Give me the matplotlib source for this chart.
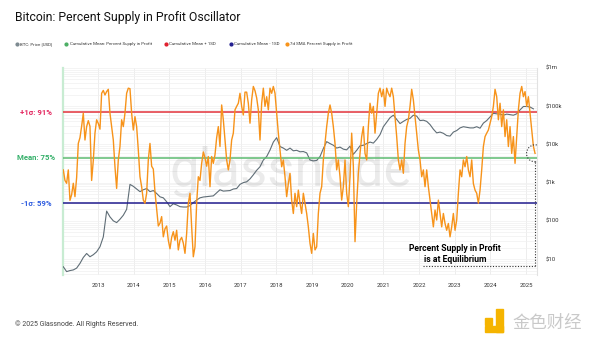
import numpy as np
import pandas as pd
import matplotlib
matplotlib.use('Agg')
import matplotlib.pyplot as plt
from matplotlib.lines import Line2D
from matplotlib.patches import Rectangle
from matplotlib.ticker import NullFormatter

plt.rcParams['font.family'] = ['Roboto', 'DejaVu Sans']

# 7d SMA percent supply in profit (%), evenly spaced samples
psip_2012 = [70.7, 67, 66, 70.7, 60, 62, 66, 61.3, 68, 80,
             82, 86, 90.6, 81.2, 85.9, 88, 86, 67, 74, 83.6,
             88.3, 87, 85, 97.6, 98.6, 97, 98.2, 99, 90.6, 85.9,
             81.2, 71.8, 64.2, 74.2, 78.9, 88.3, 85.9, 90.6, 97.6, 99.4,
             99.2, 90.6, 84.7, 89.4, 85.9, 77.7, 68.3, 64.8, 60.1, 59,
             62.5, 74.2, 80, 72, 71, 63, 57, 51, 52, 54.3,
             47.2, 50, 51, 46, 43, 47, 49, 46, 49.5, 42.6,
             46, 47, 45, 41.4, 48.4, 59, 62.5, 50.7, 40.2, 43.7,
             59, 68.3]
psip_2016 = [67, 73, 77, 75, 72, 75.4, 64.8, 75.4, 73, 76,
             82, 85.9, 78.9, 93.5, 88.3, 81.2, 74.2, 70.7, 74.2, 81.2,
             83.6, 91.8, 93, 94.1, 97.6, 93, 90, 98, 98, 94.1,
             87.1, 95.3, 100, 98.5, 96, 91.8, 81.2, 94.1, 99.4, 93,
             96.4, 91.8, 99.4, 97.6, 100, 97.6, 90.6, 83.6, 77.7, 71.8,
             74.2, 68.3, 61.3, 65.9, 69.5, 60.1, 55.4, 62.5, 57.8, 63.6,
             59, 55.4, 62.5, 59, 55.4, 50.7, 44.9, 41.4, 48.4, 42.6,
             43.7, 55.4, 62.5, 64.8, 74.2, 80, 85.9, 90.6, 93.5, 90.6,
             85.9, 80, 70.7, 74.2]
psip_2020 = [68.3, 60.1, 64.8, 74.2, 62.5, 57.8, 68.3, 83.6, 72, 45.5,
             59, 69.5, 76.5, 82.4, 85.9, 76.5, 74.2, 85.9, 94.1, 90.6,
             93, 83.6, 90.6, 97.6, 99.4, 96.4, 99, 93, 99.4, 97.6,
             96.4, 99.4, 96.4, 89.4, 82.4, 74.2, 70.7, 74.2, 69.5, 80,
             85.9, 88.3, 93, 99, 95.3, 89.4, 83.6, 77.7, 74.2, 68.3,
             70.7, 64.8, 70.7, 64.8, 60.1, 55.4, 50.7, 56.6, 53.1, 60.1,
             55.4, 50.7, 55.4, 51.9, 49.5, 51.9, 47.2, 50.7, 55.4, 49.5,
             53.1, 62.5, 70.7, 68.3, 74.2, 71.8, 75.4, 70.7, 68.3, 74.2,
             65.9, 63.6, 62.5, 59, 63.6, 70.7, 78.9, 82.4, 83.6, 84.7,
             87.1, 89.4, 93, 99, 96.4, 88.3, 94.1, 85.9, 91.8, 82.4,
             88.3, 78.9, 85.9, 76.5, 82.4, 73, 82.4, 91.8, 97.6, 100,
             96.4, 98.2, 93, 96.4, 90.6, 84.7, 79, 76.5]
psip = psip_2012 + psip_2016 + psip_2020
psip_start, psip_end = '2012-01-11', '2025-04-02'

# BTC price (USD), evenly spaced samples
price_2012 = [6.3, 4.7, 5, 5.2, 5.8, 7.7, 11, 14, 11.5, 13,
              15.5, 21, 38, 180, 127, 100, 90, 110, 140, 200,
              900, 800, 680, 580, 650, 700, 580, 620, 520, 425,
              400, 316, 235, 280, 260, 235, 230, 230, 250, 300,
              350]
price_2016 = [400, 420, 430, 440, 450, 540, 650, 600, 610, 620,
              680, 700, 900, 1000, 1050, 1250, 1600, 2100, 2600, 3900,
              4800, 7100, 11500, 15000, 8800, 8000, 7000, 8000, 6800, 7000,
              6400, 6500, 6000, 3900, 3700, 3800, 4800, 7800, 11800, 10500,
              9500, 8000]
price_2020 = [8500, 7500, 7200, 9000, 5500, 7000, 9200, 9500, 10500, 11500,
              10800, 13500, 18000, 29000, 38000, 50000, 58000, 45000, 35000, 40000,
              45000, 48000, 58000, 55000, 42000, 43000, 40000, 33000, 25000, 20000,
              21000, 19500, 17000, 16500, 21000, 23000, 27000, 29000, 28000, 27000,
              27000, 29000, 26500, 36000, 42000, 52000, 65000, 63000, 62000, 58000,
              62000, 60000, 58000, 63000, 80000, 98000, 98000, 95000, 85000]
btc_price = price_2012 + price_2016 + price_2020
price_start, price_end = '2012-01-11', '2025-03-16'

mean_pct = 75
upper_pct = 91
lower_pct = 59

years = list(range(2013, 2026))
price_ticks = [10, 100, 1000, 10000, 100000, 1000000]
price_labels = ['$10', '$100', '$1k', '$10k', '$100k', '$1m']

psip_dates = pd.date_range(psip_start, psip_end, periods=len(psip))
price_dates = pd.date_range(price_start, price_end, periods=len(btc_price))

fig = plt.figure(figsize=(6, 3.38), dpi=100)
fig.patch.set_facecolor('white')

ax = fig.add_axes([0.105, 0.186, 0.79, 0.613])
ax2 = ax.twinx()

ax.set_yscale('log')
ax.plot(price_dates, btc_price, color='#5f6d76', lw=0.8, zorder=3)
ax.set_ylim(3.8, 1e6)
ax.set_xlim(pd.Timestamp('2012-01-08'), pd.Timestamp('2025-04-22'))
ax.yaxis.tick_right()
ax.set_yticks(price_ticks)
ax.set_yticklabels(price_labels)
ax.yaxis.set_minor_formatter(NullFormatter())
ax.tick_params(axis='y', which='both', length=0, labelsize=4.3, pad=6, colors='#333333')
ax.set_xticks([pd.Timestamp(f'{y}-01-01') for y in years])
ax.set_xticklabels([str(y) for y in years])
ax.tick_params(axis='x', length=0, labelsize=4.3, pad=6, colors='#333333')
ax.grid(axis='y', which='both', color='#f0f0f0', lw=0.5)
ax.grid(axis='x', color='#e6e6e6', lw=0.5)
ax.set_axisbelow(True)
for s in ['top', 'bottom']:
    ax.spines[s].set_visible(False)
ax.spines['left'].set_color('#c8ecd2')
ax.spines['left'].set_linewidth(1.6)
ax.spines['right'].set_color('#e2e2e2')
ax.spines['right'].set_linewidth(0.8)

# faint brand watermark
ax.text(0.48, 0.5, 'glassnode', transform=ax.transAxes, ha='center', va='center',
        fontsize=38, color='#000000', alpha=0.08, zorder=1)

ax2.set_ylim(33.75, 106.5)
ax2.set_yticks([])
for s in ax2.spines.values():
    s.set_visible(False)
ax2.axhline(upper_pct, color='#e3333c', lw=1.1, zorder=2)
ax2.axhline(mean_pct, color='#5dbb70', lw=1.1, zorder=2)
ax2.axhline(lower_pct, color='#211c8e', lw=1.1, zorder=2)
ax2.plot(psip_dates, psip, color='#f7931a', lw=1.0, zorder=4)

band_labels = [(upper_pct, f'+1σ: {upper_pct}%', '#e3265f'),
               (mean_pct, f'Mean: {mean_pct}%', '#35b06a'),
               (lower_pct, f'-1σ: {lower_pct}%', '#2f5de0')]
for val, txt, col in band_labels:
    ax2.text(-0.057, val, txt, transform=ax2.get_yaxis_transform(), ha='center',
             va='center', fontsize=5.6, fontweight='bold', color=col)

# callout on the latest reading
last_date, last_val = psip_dates[-1], psip[-1]
ax2.scatter([last_date], [last_val], s=150, facecolors='none', edgecolors='#333333',
            linewidths=0.8, linestyles=(0, (1, 1.5)), zorder=5)
ax2.plot([last_date, last_date], [last_val - 3.1, 37], color='#333333', lw=0.8,
         ls=(0, (1, 1.5)), zorder=5)
ax2.plot([pd.Timestamp('2022-02-10'), last_date], [37, 37], color='#333333', lw=0.8,
         ls=(0, (1, 1.5)), zorder=5)
ax2.text(pd.Timestamp('2023-01-05'), 41.3, 'Percent Supply in Profit\nis at Equilibrium',
         ha='center', va='center', fontsize=6.2, fontweight='bold', color='black',
         linespacing=1.25, zorder=6)

fig.text(0.025, 0.947, 'Bitcoin: Percent Supply in Profit Oscillator', fontsize=8.8,
         color='#111111', va='center', ha='left')

legend_items = [(17, '#7d8a90', 'BTC: Price [USD]'),
                (66, '#4cae64', 'Cumulative Mean: Percent Supply in Profit'),
                (166, '#e0202e', 'Cumulative Mean + 1SD'),
                (231, '#231f8f', 'Cumulative Mean - 1SD'),
                (287, '#f7931a', '7d SMA Percent Supply in Profit')]
for px, col, txt in legend_items:
    fig.add_artist(Line2D([px / 600], [0.870], marker='o', markersize=2, color=col,
                          transform=fig.transFigure))
    fig.text((px + 3.5) / 600, 0.870, txt, fontsize=3.2, color='#333333', va='center')

fig.text(0.025, 0.041, '© 2025 Glassnode. All Rights Reserved.', fontsize=5,
         color='#444444', va='center')

# site logo, bottom right
logo_yellow = '#f5b400'
fig.add_artist(Rectangle((485 / 600, 1 - 325 / 338), 7 / 600, 7 / 338,
                         transform=fig.transFigure, color=logo_yellow))
fig.add_artist(Rectangle((496 / 600, 1 - 332 / 338), 7 / 600, 23 / 338,
                         transform=fig.transFigure, color=logo_yellow))
fig.add_artist(Rectangle((485 / 600, 1 - 332 / 338), 18 / 600, 6 / 338,
                         transform=fig.transFigure, color=logo_yellow))
fig.text(547 / 600, 0.044, '金色财经', fontsize=12.5, color='#c9c9c9', ha='center',
         va='center', family=['Noto Sans CJK SC', 'DejaVu Sans'])

fig.savefig('out.png', dpi=100)
